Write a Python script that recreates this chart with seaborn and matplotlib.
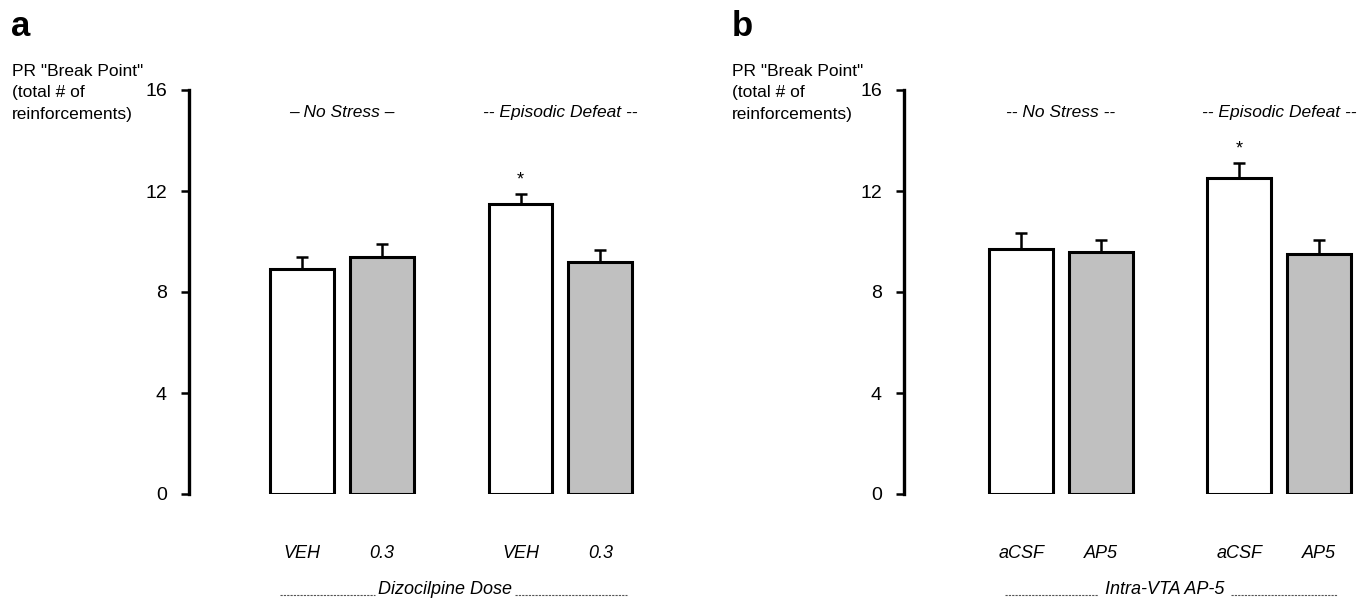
import numpy as np
import pandas as pd
import matplotlib
matplotlib.use("Agg")
import matplotlib.pyplot as plt
from matplotlib.lines import Line2D
import seaborn as sns

# ---------------- data ----------------
groups = ["No Stress", "Episodic Defeat"]
a_drugs = ["VEH", "0.3"]
a_means = [8.9, 9.37, 11.5, 9.17]      # NS-VEH, NS-0.3, ED-VEH, ED-0.3
a_sems = [0.5, 0.55, 0.4, 0.5]
b_drugs = ["aCSF", "AP5"]
b_means = [9.72, 9.6, 12.5, 9.52]      # NS-aCSF, NS-AP5, ED-aCSF, ED-AP5
b_sems = [0.6, 0.45, 0.6, 0.55]
y_ticks = [0, 4, 8, 12, 16]
a_group_labels = ["\u2013 No Stress \u2013", "-- Episodic Defeat --"]
b_group_labels = ["-- No Stress --", "-- Episodic Defeat --"]
a_xlabel = "Dizocilpine Dose"
b_xlabel = "Intra-VTA AP-5"
ylabel_lines = ['PR "Break Point"', "(total # of", "reinforcements)"]
sig_flags = [False, False, True, False]

sns.set_style("white")
plt.rcParams["font.family"] = ["Liberation Sans", "DejaVu Sans"]
plt.rcParams["text.color"] = "black"
plt.rcParams["xtick.color"] = "black"
plt.rcParams["ytick.color"] = "black"
plt.rcParams["xtick.labelcolor"] = "black"
plt.rcParams["ytick.labelcolor"] = "black"

W, H = 1361, 606
fig = plt.figure(figsize=(W / 100, H / 100), dpi=100)

def px_ax(l, r, t, b):
    return fig.add_axes([l / W, (H - b) / H, (r - l) / W, (b - t) / H])

def make_df(drugs, means, sems):
    rows = []
    for gi, g in enumerate(groups):
        for di, d in enumerate(drugs):
            k = gi * 2 + di
            rows.append({"group": g, "drug": d, "value": means[k], "sem": sems[k],
                         "sig": sig_flags[k]})
    return pd.DataFrame(rows)

def draw_panel(ax, drugs, means, sems, xlim, group_labels, xlab, dash_px, letter, letter_x, ylab_x):
    df = make_df(drugs, means, sems)
    sns.barplot(data=df, x="group", y="value", hue="drug", order=groups, hue_order=drugs,
                palette={drugs[0]: "white", drugs[1]: "#c0c0c0"}, edgecolor="black",
                linewidth=2.2, width=0.73, gap=0.2, errorbar=None, legend=False, ax=ax)
    centers, labels = [], []
    for p in ax.patches:
        h = p.get_height()
        xc = p.get_x() + p.get_width() / 2
        row = df.iloc[int(np.argmin(np.abs(df["value"].values - h)))]
        ax.errorbar([xc], [h], yerr=[[0], [row["sem"]]], fmt="none", ecolor="black",
                    elinewidth=1.8, capsize=4, capthick=1.8, zorder=1)
        if row["sig"]:
            ax.text(xc, h + row["sem"] + 0.55, "*", ha="center", va="center",
                    fontsize=13, color="black")
        centers.append(xc)
        labels.append(row["drug"])
    order = np.argsort(centers)
    ax.set_xticks([centers[i] for i in order])
    ax.set_xticklabels([labels[i] for i in order], style="italic", fontsize=13)
    ax.set_xlim(*xlim)
    ax.set_ylim(0, 16)
    ax.set_yticks(y_ticks)
    ax.set_yticklabels([str(t) for t in y_ticks], fontsize=14)
    ax.tick_params(axis="x", length=0, pad=37)
    ax.tick_params(axis="y", left=True, length=6, width=1.8, pad=10, direction="out")
    ax.set_xlabel("")
    ax.set_ylabel("")
    for s in ["top", "right", "bottom"]:
        ax.spines[s].set_visible(False)
    ax.spines["left"].set_linewidth(2.4)
    ax.spines["left"].set_color("black")
    for gi, gl in enumerate(group_labels):
        ax.text(gi, 15.1, gl, ha="center", va="center", style="italic", fontsize=12.5,
                clip_on=False)
    # bottom label with dotted lines
    (l1, l2, t1, t2) = dash_px
    fig.text(((t1 + t2) / 2) / W, 1 - 590 / H, xlab, ha="center", va="center",
             style="italic", fontsize=13)
    for (xa, xb) in [(l1, t1 - 5), (t2 + 5, l2)]:
        fig.add_artist(Line2D([xa / W, xb / W], [1 - 595 / H, 1 - 595 / H],
                              transform=fig.transFigure, color="#555555", lw=0.8,
                              linestyle=(0, (2, 1))))
    fig.text(letter_x / W, 1 - 27 / H, letter, ha="left", va="center",
             fontsize=25, fontweight="bold")
    for line, yy in zip(ylabel_lines, [72, 93, 115]):
        fig.text(ylab_x / W, 1 - yy / H, line, ha="left", va="center", fontsize=12.5)

ax_a = px_ax(189, 650, 90, 494)
draw_panel(ax_a, a_drugs, a_means, a_sems, (-0.70, 1.41), a_group_labels, a_xlabel,
           (280, 627, 380, 510), "a", 11, 12)
ax_b = px_ax(904, 1361, 90, 494)
draw_panel(ax_b, b_drugs, b_means, b_sems, (-0.72, 1.376), b_group_labels, b_xlabel,
           (1005, 1337, 1103, 1226), "b", 732, 732)

fig.savefig("out.png", dpi=100, facecolor="white")
